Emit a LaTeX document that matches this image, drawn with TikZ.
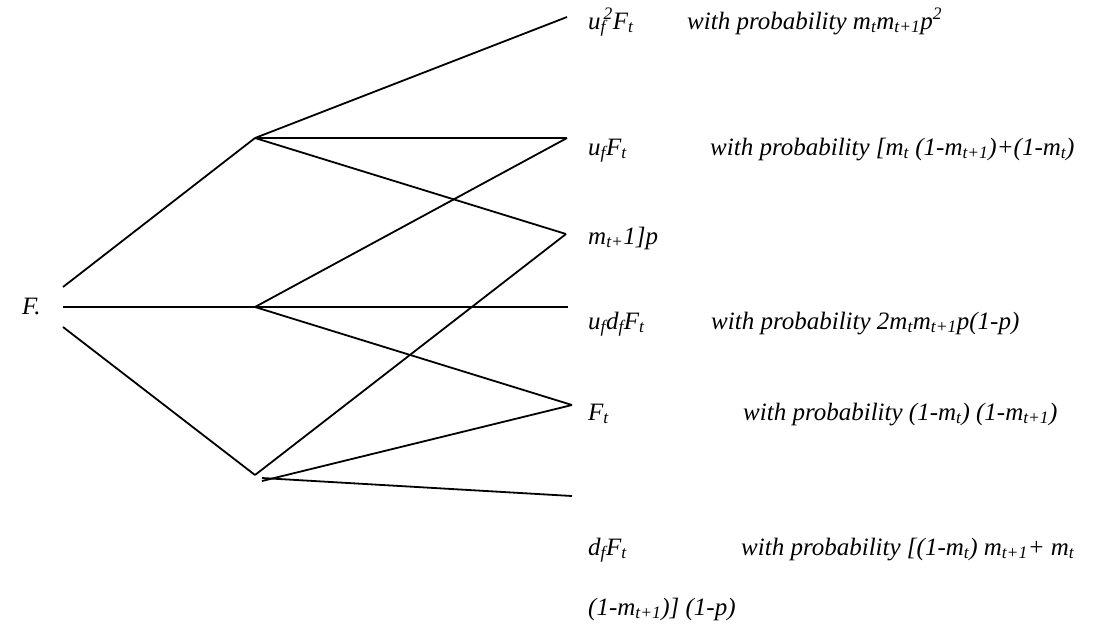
\documentclass[tikz,border=0pt]{standalone}
\usepackage{fontspec}
\setmainfont{Liberation Serif}
\newcommand\sbs[1]{\textsubscript{#1}}
\newcommand\sps[1]{\textsuperscript{#1}}
\tikzset{
  lbl/.style={anchor=base west, inner sep=0pt, font=\fontsize{25}{29}\selectfont\itshape},
  branch/.style={line width=1.8pt, black},
}
\begin{document}
\begin{tikzpicture}[x=1pt,y=-1pt]
\useasboundingbox (0,0) rectangle (1107,625);
% text
\node[lbl] (F0) at (22,314) {F.};
\node[lbl] (l1) at (588,29) {u\rlap{\sbs{f}}\sps{\,2}F\sbs{t}};
\node[lbl] (p1) at (687,29) {with probability m\sbs{t}m\sbs{t+1}p\sps{2}};
\node[lbl] (l2) at (588,155) {u\sbs{f}F\sbs{t}};
\node[lbl] (p2) at (710,155) {with probability [m\sbs{t} (1-m\sbs{t+1})+(1-m\sbs{t})};
\node[lbl] (l3) at (588,244) {m\sbs{t+}1]p};
\node[lbl] (l4) at (588,329) {u\sbs{f}d\sbs{f}F\sbs{t}};
\node[lbl] (p4) at (711,329) {with probability 2m\sbs{t}m\sbs{t+1}p(1-p)};
\node[lbl] (l5) at (588,420) {F\sbs{t}};
\node[lbl] (p5) at (743,420) {with probability (1-m\sbs{t}) (1-m\sbs{t+1})};
\node[lbl] (l6) at (588,555) {d\sbs{f}F\sbs{t}};
\node[lbl] (p6) at (741,555) {with probability [(1-m\sbs{t}) m\sbs{t+1}+ m\sbs{t}};
\node[lbl] (l7) at (588,615) {(1-m\sbs{t+1})] (1-p)};
% tree points
\coordinate (s1) at (63,287);
\coordinate (s2) at (63,307);
\coordinate (s3) at (63,327);
\coordinate (A) at (255,138);
\coordinate (B) at (255,307);
\coordinate (C) at (255,475);
\coordinate (C2) at (262,481);
\coordinate (C3) at (262,478);
\coordinate (e1) at (567,17);
\coordinate (e2) at (567,138);
\coordinate (e3) at (566,234);
\coordinate (e4) at (568,307);
\coordinate (e5) at (572,405);
\coordinate (e6) at (572,496);
% connectors
\draw[branch] (s1) -- (A);
\draw[branch] (s2) -- (e4);
\draw[branch] (s3) -- (C);
\draw[branch] (A) -- (e1);
\draw[branch] (A) -- (e2);
\draw[branch] (A) -- (e3);
\draw[branch] (B) -- (e2);
\draw[branch] (B) -- (e5);
\draw[branch] (C) -- (e3);
\draw[branch] (C2) -- (e5);
\draw[branch] (C3) -- (e6);
\end{tikzpicture}
\end{document}
